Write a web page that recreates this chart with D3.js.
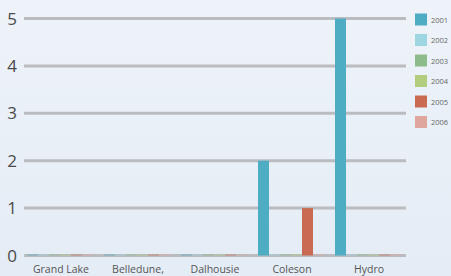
<!DOCTYPE html>
<html>
<head>
<meta charset="utf-8">
<script src="https://cdn.jsdelivr.net/npm/d3@7"></script>
<style>
  html, body { margin: 0; padding: 0; }
  body { width: 451px; height: 276px; overflow: hidden; }
</style>
</head>
<body>
<div class="chartHolder"></div>
<script>
// categories and series
const sites = ["Grand Lake", "Belledune,", "Dalhousie", "Coleson", "Hydro"];
const years = ["2001", "2002", "2003", "2004", "2005", "2006"];
const colors = ["#4eacc3", "#9dd6e0", "#8dbb8a", "#b1cd7d", "#c96a52", "#dea69c"];
const v2001 = [0, 0, 0, 2, 5];
const v2002 = [0, 0, 0, 0, 0];
const v2003 = [0, 0, 0, 0, 0];
const v2004 = [0, 0, 0, 0, 0];
const v2005 = [0, 0, 0, 1, 0];
const v2006 = [0, 0, 0, 0, 0];
const yTicks = [0, 1, 2, 3, 4, 5];

const series = [v2001, v2002, v2003, v2004, v2005, v2006];

const w = 451, h = 276;
const svg = d3.select(".chartHolder").append("svg")
  .attr("width", w)
  .attr("height", h);

// background gradient
const defs = svg.append("defs");
const grad = defs.append("linearGradient")
  .attr("id", "bg").attr("x1", 0).attr("y1", 0).attr("x2", 0).attr("y2", 1);
grad.append("stop").attr("offset", "0%").attr("stop-color", "#eef3f9");
grad.append("stop").attr("offset", "100%").attr("stop-color", "#e4ecf5");
svg.append("rect").attr("width", w).attr("height", h).attr("fill", "url(#bg)");

const x0 = d3.scaleBand()
  .domain(sites)
  .range([22, 406])
  .paddingInner(0.143)
  .paddingOuter(0.065);

const x1 = d3.scaleBand()
  .domain(years)
  .range([0, x0.bandwidth()]);

const y = d3.scaleLinear()
  .domain([0, 5])
  .range([255.5, 18.5]);

// grid lines
svg.append("g")
  .selectAll("line")
  .data(yTicks)
  .join("line")
  .attr("x1", 24)
  .attr("x2", 406)
  .attr("y1", d => y(d))
  .attr("y2", d => y(d))
  .attr("stroke", "#babcc0")
  .attr("stroke-width", 3);

// y labels
svg.append("g")
  .selectAll("text")
  .data(yTicks)
  .join("text")
  .attr("x", 17)
  .attr("y", d => y(d) + 6)
  .attr("text-anchor", "end")
  .attr("font-family", "'Open Sans', sans-serif")
  .attr("font-size", 17)
  .attr("fill", "#4a4a4a")
  .text(d => d);

// bars
const groups = svg.append("g")
  .selectAll("g")
  .data(sites)
  .join("g")
  .attr("transform", d => `translate(${x0(d)},0)`);

groups.selectAll("rect")
  .data((d, i) => years.map((yr, k) => ({ yr, k, v: series[k][i] })))
  .join("rect")
  .attr("x", d => x1(d.yr))
  .attr("width", x1.bandwidth())
  .attr("y", d => d.v > 0 ? y(d.v) : y(0) - 1)
  .attr("height", d => d.v > 0 ? y(0) - y(d.v) : 1)
  .attr("fill", d => colors[d.k])
  .attr("opacity", d => d.v > 0 ? 1 : 0.6);

// x labels
svg.append("g")
  .selectAll("text")
  .data(sites)
  .join("text")
  .attr("x", d => x0(d) + x0.bandwidth() / 2 + 1)
  .attr("y", 273)
  .attr("text-anchor", "middle")
  .attr("font-family", "'Open Sans', sans-serif")
  .attr("font-size", 10.5)
  .attr("fill", "#555")
  .text(d => d);

// legend
const legend = svg.append("g")
  .selectAll("g")
  .data(years)
  .join("g")
  .attr("transform", (d, i) => `translate(415,${13.5 + i * 20.5})`);

legend.append("rect")
  .attr("width", 12)
  .attr("height", 12)
  .attr("fill", (d, i) => colors[i]);

legend.append("text")
  .attr("x", 16)
  .attr("y", 9)
  .attr("font-family", "'Open Sans', sans-serif")
  .attr("font-size", 7.5)
  .attr("fill", "#666")
  .text(d => d);
</script>
</body>
</html>
